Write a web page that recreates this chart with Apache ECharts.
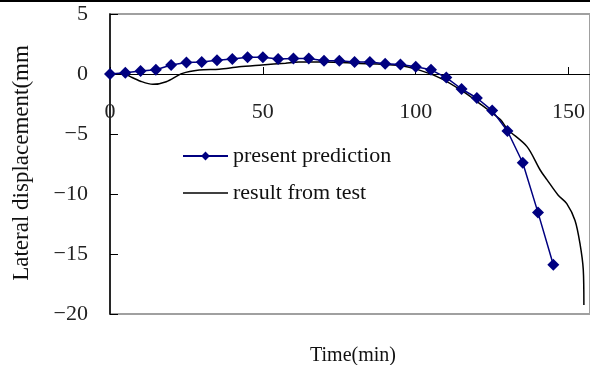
<!DOCTYPE html>
<html>
<head>
<meta charset="utf-8">
<script src="https://cdn.jsdelivr.net/npm/echarts@6/dist/echarts.min.js"></script>
<style>
html,body{margin:0;padding:0;background:#fff;}
#chart{width:590px;height:365px;}
</style>
</head>
<body>
<div id="chart"></div>
<script>
const predTime = [0,5,10,15,20,25,30,35,40,45,50,55,60,65,70,75,80,85,90,95,100,105,110,115,120,125,130,135,140,145];
const predDisp = [0,0.1,0.25,0.35,0.75,0.95,1.0,1.15,1.25,1.4,1.4,1.25,1.3,1.3,1.1,1.1,1.0,1.0,0.85,0.8,0.6,0.35,-0.3,-1.25,-2.0,-3.05,-4.75,-7.4,-11.55,-15.9];
const testTime = [0,5,6.5,10,14,18.4,23.7,29.2,35.7,42.2,49.7,57.4,61.7,70,80,94.2,101.7,108.2,114.7,120.1,127.7,130,136.4,140.7,142.9,146.6,149.4,152.1,153.7,154.8,155];
const testDisp = [0,0,-0.2,-0.6,-0.86,-0.64,0.05,0.33,0.4,0.6,0.75,0.9,1.0,1.0,0.9,0.72,0.28,-0.36,-1.33,-2.3,-3.8,-4.6,-6.05,-8.0,-8.8,-10.1,-10.8,-12.2,-14.1,-16.3,-19.25];
const xTicks = [0,50,100,150];
const yTicks = [5,0,-5,-10,-15,-20];
const seriesNames = ['present prediction','result from test'];
const yTitle = 'Lateral displacement(mm';
const xTitle = 'Time(min)';

const FONT = "'Liberation Serif','Times New Roman',serif";
const chart = echarts.init(document.getElementById('chart'), null, {renderer:'canvas'});
chart.setOption({
  animation:false,
  backgroundColor:'#fff',
  grid:{left:110, top:14, right:-3, bottom:51, show:true, borderColor:'#a0a0a0', borderWidth:2, backgroundColor:'transparent'},
  xAxis:{
    type:'value', min:0, max:157, interval:50, position:'bottom', offset:-240,
    axisLine:{onZero:false, lineStyle:{color:'#000', width:1}},
    axisTick:{inside:true, length:7, lineStyle:{color:'#000'}},
    axisLabel:{showMaxLabel:false, margin:27, color:'#222', fontFamily:FONT, fontSize:22,
      formatter:v => xTicks.includes(v) ? String(v) : ''},
    splitLine:{show:false}
  },
  yAxis:{
    type:'value', min:-20, max:5, interval:5,
    axisLine:{show:true, onZero:false, lineStyle:{color:'#000', width:1.5}},
    axisTick:{show:true, inside:true, length:8, lineStyle:{color:'#000'}},
    axisLabel:{margin:22, color:'#222', fontFamily:FONT, fontSize:22, padding:[14,0,0,0],
      formatter:v => yTicks.includes(v) ? String(v).replace('-', '\u2212') : ''},
    splitLine:{show:false}
  },
  legend:{
    orient:'vertical', left:182, top:145, padding:0, itemWidth:45, itemHeight:11, itemGap:15,
    textStyle:{fontFamily:FONT, fontSize:22, color:'#111', lineHeight:22},
    data:[seriesNames[0], {name:seriesNames[1], icon:'path://M0,0 L45,0 L45,1.5 L0,1.5 Z'}]
  },
  series:[
    {name:seriesNames[0], type:'line', data:predTime.map((t,i)=>[t,predDisp[i]]),
     symbol:'diamond', symbolSize:12, showAllSymbol:true,
     itemStyle:{color:'#000080'}, lineStyle:{color:'#000080', width:1.5}, z:3},
    {name:seriesNames[1], type:'line', data:testTime.map((t,i)=>[t,testDisp[i]]),
     symbol:'none', smooth:0.3, itemStyle:{color:'#000'}, lineStyle:{color:'#000', width:1.5}, z:2}
  ],
  graphic:[
    {type:'rect', left:0, top:0, shape:{x:0,y:0,width:590,height:2}, style:{fill:'#000'}},
    {type:'text', x:22, y:163, rotation:Math.PI/2,
     style:{text:yTitle, fontFamily:FONT, fontSize:23, fill:'#111', align:'center', verticalAlign:'middle'}},
    {type:'text', x:353, y:356,
     style:{text:xTitle, fontFamily:FONT, fontSize:20, fill:'#111', align:'center', verticalAlign:'middle'}}
  ]
});
</script>
</body>
</html>
